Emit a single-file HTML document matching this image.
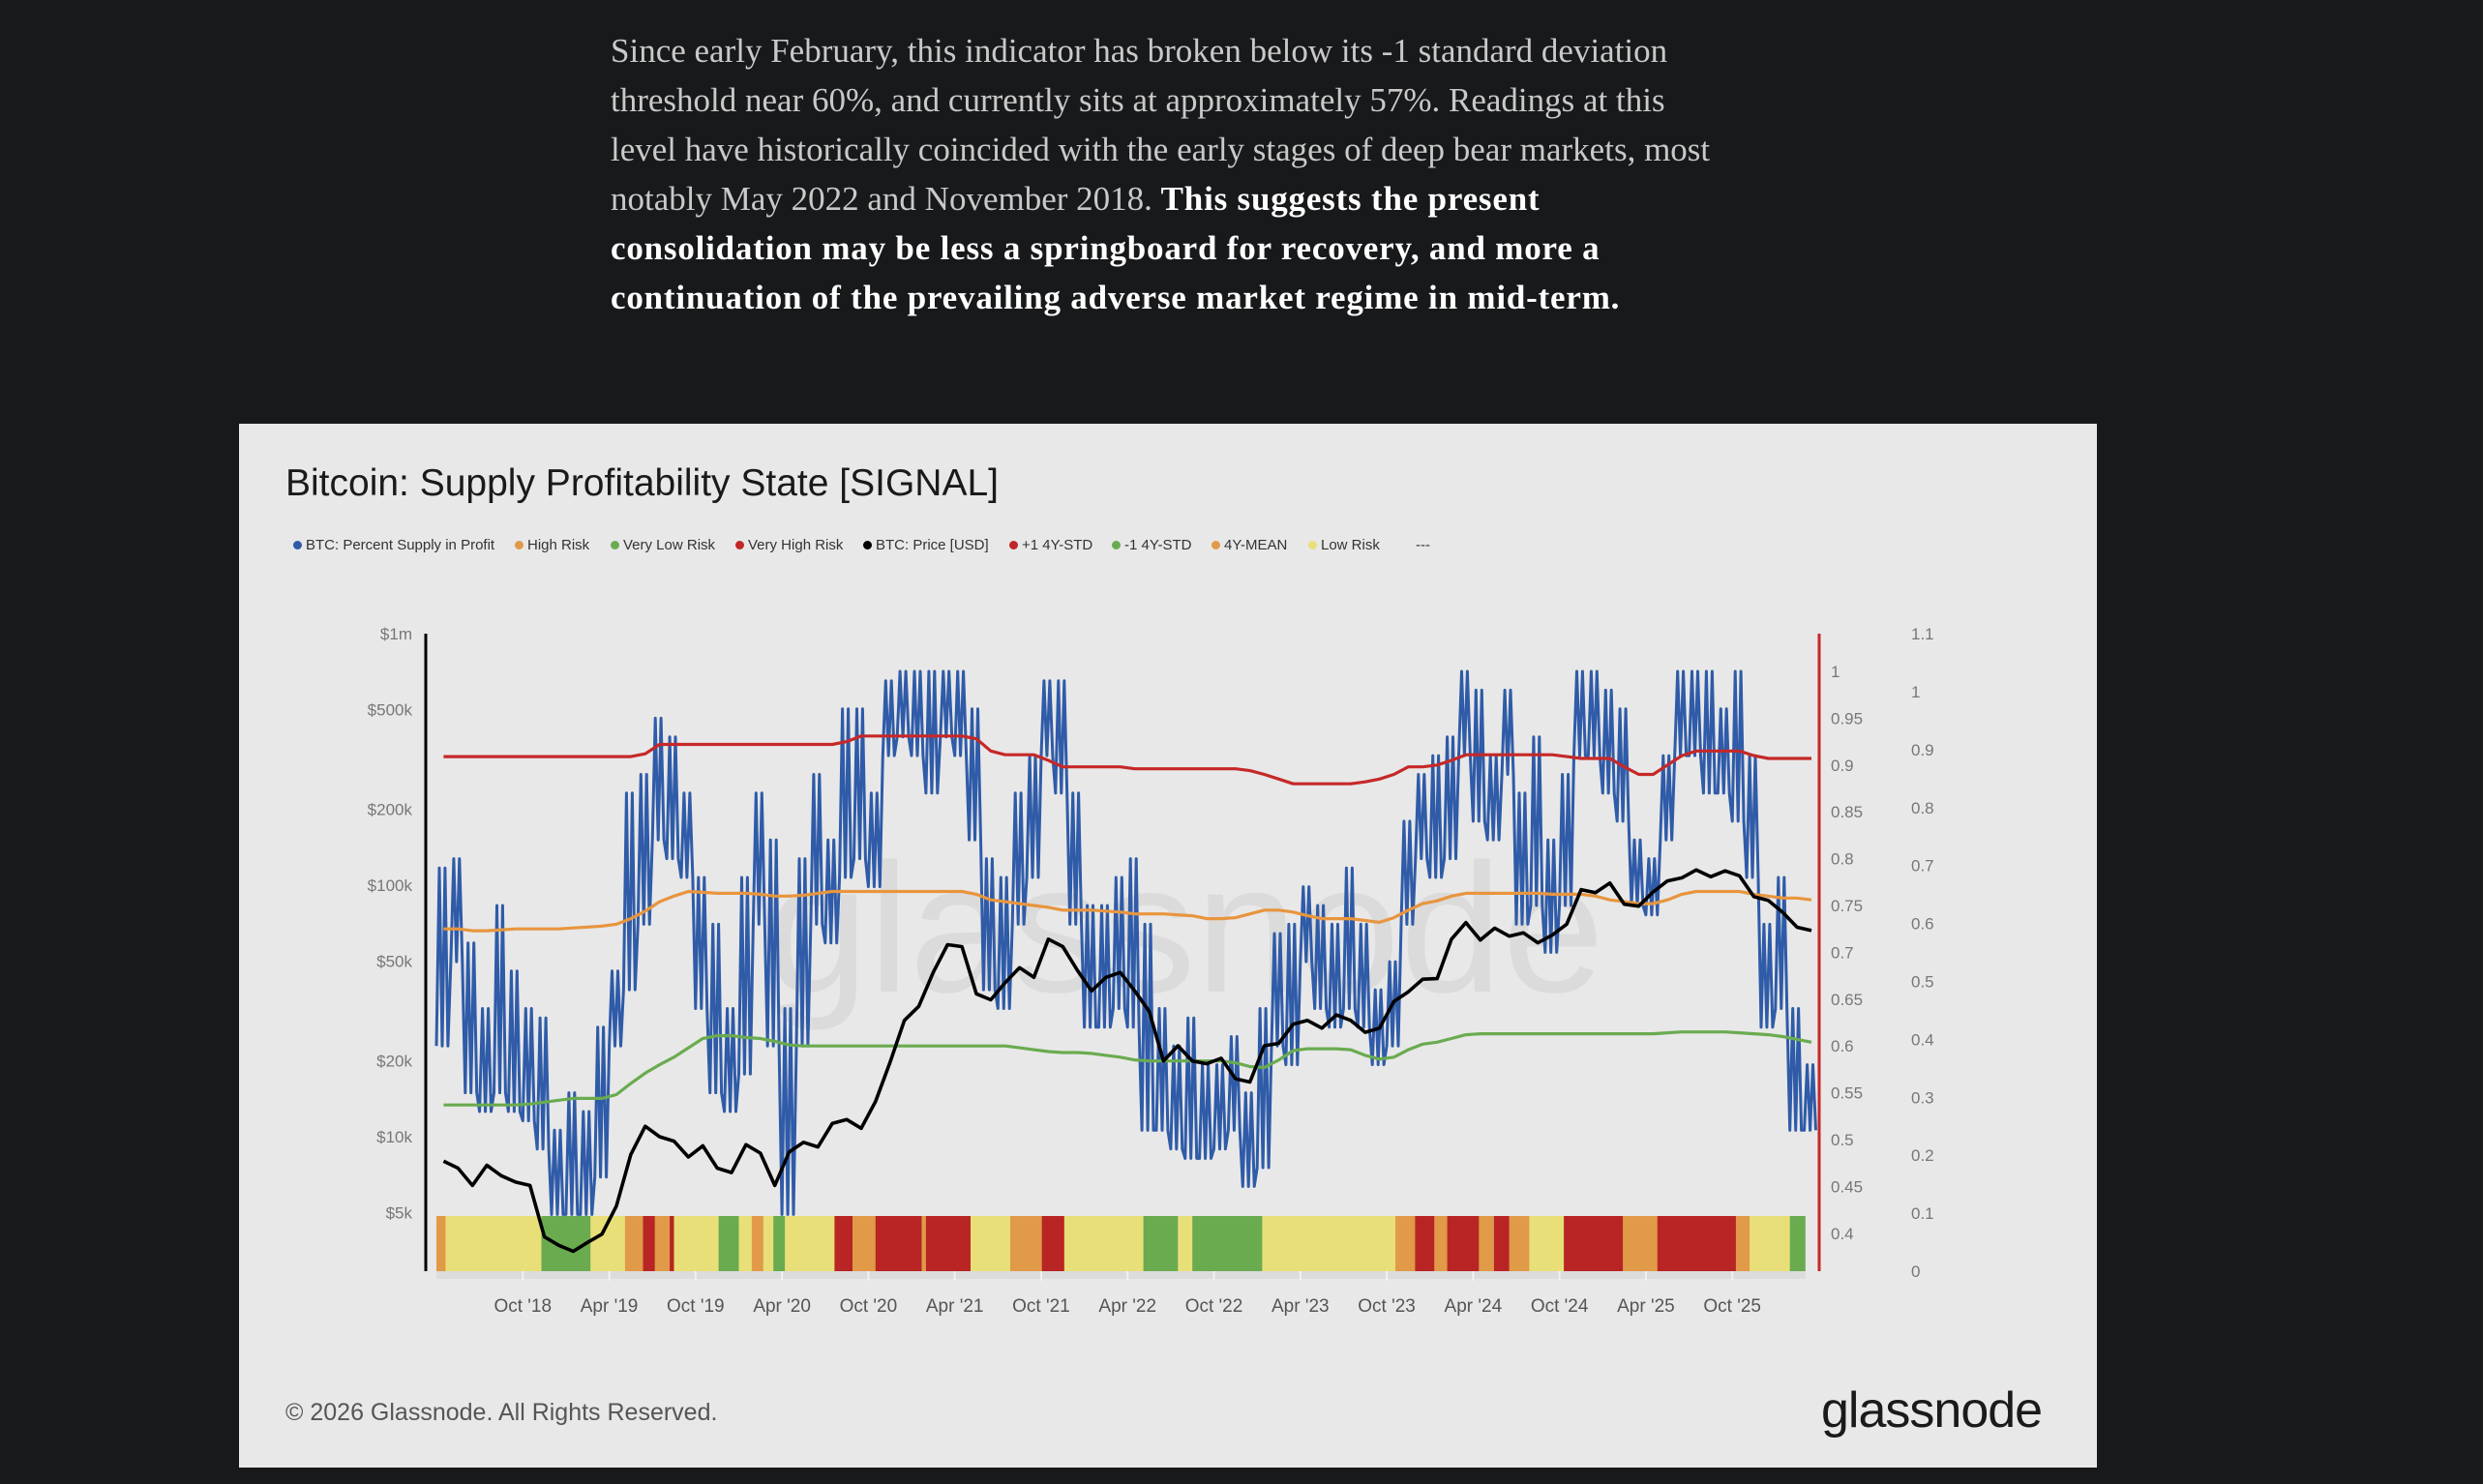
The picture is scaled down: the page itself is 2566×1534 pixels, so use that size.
<!DOCTYPE html>
<html><head><meta charset="utf-8">
<style>
body{margin:0;width:2566px;height:1534px;background:#18191b;overflow:hidden;position:relative;font-family:"Liberation Sans",sans-serif}
#intro{position:absolute;left:631px;top:27px;font-family:"Liberation Serif",serif;font-size:35px;line-height:51px;color:#c9c9c9;width:1300px}
#intro b{color:#fff;letter-spacing:0.8px}
#card{position:absolute;left:247px;top:438px;width:1920px;height:1079px;background:#e8e8e8}
.lg{position:absolute;top:555px;font-size:15px;color:#333;white-space:nowrap}
.lg i{display:inline-block;width:9px;height:9px;border-radius:50%;margin-right:4px;vertical-align:0}
</style></head><body>
<div id="intro">Since early February, this indicator has broken below its -1 standard deviation<br>threshold near 60%, and currently sits at approximately 57%. Readings at this<br>level have historically coincided with the early stages of deep bear markets, most<br>notably May 2022 and November 2018. <b>This suggests the present<br>consolidation may be less a springboard for recovery, and more a<br>continuation of the prevailing adverse market regime in mid-term.</b></div>
<div id="card"></div>
<div style="position:absolute;left:295px;top:478px;font-size:39px;color:#1a1a1a">Bitcoin: Supply Profitability State [SIGNAL]</div>
<div class="lg" style="left:303px"><i style="background:#2f5ba8"></i>BTC: Percent Supply in Profit</div>
<div class="lg" style="left:532px"><i style="background:#e09a48"></i>High Risk</div>
<div class="lg" style="left:631px"><i style="background:#6aab50"></i>Very Low Risk</div>
<div class="lg" style="left:760px"><i style="background:#c02626"></i>Very High Risk</div>
<div class="lg" style="left:892px"><i style="background:#000"></i>BTC: Price [USD]</div>
<div class="lg" style="left:1043px"><i style="background:#c02626"></i>+1 4Y-STD</div>
<div class="lg" style="left:1149px"><i style="background:#6aab50"></i>-1 4Y-STD</div>
<div class="lg" style="left:1252px"><i style="background:#e09a48"></i>4Y-MEAN</div>
<div class="lg" style="left:1352px"><i style="background:#e8df78"></i>Low Risk</div>
<div class="lg" style="left:1463px">---</div>
<div style="position:absolute;left:295px;top:1446px;font-size:25px;color:#555">© 2026 Glassnode. All Rights Reserved.</div>
<div style="position:absolute;left:1882px;top:1428px;font-size:52px;color:#1a1a1a;letter-spacing:-1px">glassnode</div>
<svg id="chart" width="2566" height="1534" style="position:absolute;left:0;top:0"></svg>
<script>
// Months since Apr 2018
const blueHi=[0.79,0.80,0.71,0.64,0.75,0.68,0.64,0.63,0.51,0.55,0.53,0.62,0.68,0.87,0.89,0.95,0.93,0.87,0.78,0.73,0.64,0.78,0.87,0.82,0.64,0.80,0.89,0.82,0.96,0.96,0.87,0.99,1.0,1.0,1.0,1.0,1.0,0.96,0.80,0.78,0.87,0.91,0.99,0.99,0.87,0.75,0.75,0.78,0.80,0.73,0.64,0.60,0.63,0.58,0.58,0.61,0.55,0.64,0.72,0.73,0.77,0.75,0.73,0.79,0.73,0.66,0.69,0.84,0.89,0.91,0.93,1.0,0.98,0.91,0.98,0.87,0.93,0.82,0.89,1.0,1.0,0.98,0.96,0.82,0.80,0.91,1.0,1.0,1.0,0.96,1.0,0.91,0.73,0.78,0.64,0.58];
const blueLo=[0.60,0.69,0.55,0.53,0.55,0.53,0.52,0.49,0.42,0.42,0.42,0.46,0.60,0.66,0.73,0.82,0.80,0.78,0.64,0.55,0.53,0.57,0.73,0.60,0.42,0.60,0.73,0.71,0.78,0.80,0.77,0.91,0.93,0.91,0.87,0.93,0.91,0.82,0.66,0.64,0.73,0.78,0.91,0.87,0.73,0.62,0.62,0.64,0.62,0.51,0.51,0.49,0.48,0.48,0.49,0.51,0.45,0.47,0.60,0.58,0.69,0.64,0.62,0.64,0.62,0.58,0.60,0.73,0.80,0.78,0.80,0.91,0.84,0.82,0.89,0.73,0.75,0.70,0.75,0.91,0.91,0.87,0.84,0.75,0.74,0.82,0.91,0.91,0.87,0.87,0.84,0.78,0.62,0.64,0.51,0.51];
const price=[8000,7500,6400,7700,7000,6600,6400,4000,3700,3500,3800,4100,5300,8500,11000,10000,9600,8300,9200,7500,7200,9300,8600,6400,8700,9500,9100,11300,11700,10800,13800,19700,29000,33000,45000,58000,57000,37000,35000,41000,47000,43000,61000,57000,46000,38000,43000,45000,38000,31500,20000,23000,20000,19500,20500,17000,16500,23000,23500,28000,29000,27000,30500,29000,26000,27000,34500,37700,42300,42500,61000,71000,60500,67500,62700,64600,59000,63300,70000,96000,93400,102000,84000,82500,94000,104000,107000,115000,108000,114000,109000,90000,87000,78000,68000,66000];
const stdUp=[0.909,0.909,0.909,0.909,0.909,0.909,0.909,0.909,0.909,0.909,0.909,0.909,0.909,0.909,0.912,0.922,0.922,0.922,0.922,0.922,0.922,0.922,0.922,0.922,0.922,0.922,0.922,0.922,0.925,0.931,0.931,0.931,0.931,0.931,0.931,0.931,0.931,0.928,0.915,0.911,0.911,0.911,0.905,0.898,0.898,0.898,0.898,0.898,0.896,0.896,0.896,0.896,0.896,0.896,0.896,0.896,0.894,0.89,0.885,0.88,0.88,0.88,0.88,0.88,0.882,0.885,0.89,0.898,0.898,0.9,0.905,0.911,0.911,0.911,0.911,0.911,0.911,0.911,0.909,0.907,0.907,0.907,0.898,0.89,0.89,0.9,0.91,0.915,0.915,0.915,0.915,0.91,0.907,0.907,0.907,0.907];
const stdMean=[0.725,0.725,0.723,0.723,0.724,0.725,0.725,0.725,0.725,0.726,0.727,0.728,0.73,0.736,0.744,0.754,0.76,0.765,0.764,0.763,0.763,0.763,0.762,0.76,0.76,0.761,0.763,0.765,0.765,0.765,0.765,0.765,0.765,0.765,0.765,0.765,0.765,0.762,0.756,0.754,0.752,0.75,0.748,0.745,0.745,0.745,0.744,0.743,0.741,0.741,0.741,0.74,0.739,0.736,0.736,0.737,0.741,0.745,0.745,0.743,0.739,0.736,0.736,0.736,0.734,0.732,0.737,0.745,0.752,0.755,0.76,0.763,0.763,0.763,0.763,0.763,0.763,0.762,0.762,0.762,0.76,0.756,0.754,0.752,0.752,0.756,0.762,0.765,0.765,0.765,0.765,0.762,0.76,0.758,0.758,0.756];
const stdLow=[0.537,0.537,0.537,0.537,0.537,0.537,0.538,0.54,0.542,0.544,0.544,0.544,0.548,0.56,0.571,0.58,0.588,0.598,0.608,0.611,0.611,0.609,0.608,0.605,0.601,0.6,0.6,0.6,0.6,0.6,0.6,0.6,0.6,0.6,0.6,0.6,0.6,0.6,0.6,0.6,0.598,0.596,0.594,0.593,0.593,0.592,0.59,0.588,0.585,0.584,0.584,0.584,0.584,0.584,0.584,0.582,0.578,0.577,0.585,0.595,0.597,0.597,0.597,0.596,0.59,0.586,0.588,0.596,0.602,0.604,0.608,0.612,0.613,0.613,0.613,0.613,0.613,0.613,0.613,0.613,0.613,0.613,0.613,0.613,0.613,0.614,0.615,0.615,0.615,0.615,0.614,0.613,0.612,0.61,0.607,0.604];
const bandStart=[0,0.63,7.29,10.7,13.1,14.35,15.17,16.2,16.5,19.6,21.0,21.9,22.7,23.4,24.2,27.65,28.9,30.5,33.7,34.0,37.1,39.85,42.05,43.6,49.1,51.5,52.5,57.35,66.6,67.97,69.3,70.2,72.4,73.45,74.5,75.9,78.3,82.4,84.8,90.25,91.2,94.0];
const bandEnd=[0.63,7.29,10.7,13.1,14.35,15.17,16.2,16.5,19.6,21.0,21.9,22.7,23.4,24.2,27.65,28.9,30.5,33.7,34.0,37.1,39.85,42.05,43.6,49.1,51.5,52.5,57.35,66.6,67.97,69.3,70.2,72.4,73.45,74.5,75.9,78.3,82.4,84.8,90.25,91.2,94.0,95.05];
const bandState=["high","low","vlow","low","high","vhigh","high","vhigh","low","vlow","low","high","low","vlow","low","vhigh","high","vhigh","high","vhigh","low","high","vhigh","low","vlow","low","vlow","low","high","vhigh","high","vhigh","high","vhigh","high","low","vhigh","high","vhigh","high","low","vlow"];
const priceTicks=[1000000,500000,200000,100000,50000,20000,10000,5000];
const priceTickLabels=["$1m","$500k","$200k","$100k","$50k","$20k","$10k","$5k"];
const ratioTicks=[1,0.95,0.9,0.85,0.8,0.75,0.7,0.65,0.6,0.55,0.5,0.45,0.4];
const signalTicks=[1.1,1,0.9,0.8,0.7,0.6,0.5,0.4,0.3,0.2,0.1,0];
const xTickMonths=[6,12,18,24,30,36,42,48,54,60,66,72,78,84,90];
const xTickLabels=["Oct '18","Apr '19","Oct '19","Apr '20","Oct '20","Apr '21","Oct '21","Apr '22","Oct '22","Apr '23","Oct '23","Apr '24","Oct '24","Apr '25","Oct '25"];

const NS="http://www.w3.org/2000/svg";
const svg=document.getElementById('chart');
const xS=m=>451+14.88*m;
const yP=p=>915-Math.log10(p/100000)*260;
const yR=v=>694+(1-v)*968;
const yS=v=>1314-v*599;
const colors={vhigh:"#b82524",high:"#e09a48",low:"#e8df78",vlow:"#6aab50"};
function mk(tag,attrs){const e=document.createElementNS(NS,tag);for(const k in attrs)e.setAttribute(k,attrs[k]);svg.appendChild(e);return e;}
function txt(x,y,s,anchor,size,fill){const e=mk('text',{x:x,y:y,'text-anchor':anchor,'font-size':size,fill:fill,'font-family':'Liberation Sans, sans-serif'});e.textContent=s;return e;}

const wm=txt(1225,1025,"glassnode","middle",190,"rgba(0,0,0,0.055)");



let d="";
blueHi.forEach((h,i)=>{const l=blueLo[i];for(let j=0;j<5;j++){const v=(j%2===0)?l:h;d+=(d?"L":"M")+xS(i+j/5).toFixed(1)+","+yR(v).toFixed(1);}});
const bl=mk('path',{d:d,fill:"none",stroke:"#2f5ba8","stroke-width":3,"stroke-linejoin":"round"});



function line(arr,fn,color,w,name){let p="";arr.forEach((v,i)=>{p+=(i?"L":"M")+xS(i+0.5).toFixed(1)+","+fn(v).toFixed(1);});const e=mk('path',{d:p,fill:"none",stroke:color,"stroke-width":w,"stroke-linejoin":"round"});return e;}
line(stdUp,yR,"#c62828",3.2,"plus-std-line");
line(stdMean,yR,"#e8953e",3.2,"mean-line");
line(stdLow,yR,"#6aab50",3.2,"minus-std-line");

bandStart.forEach((s,i)=>{const r=mk('rect',{x:xS(s).toFixed(1),y:1257,width:(xS(bandEnd[i])-xS(s)+0.5).toFixed(1),height:57,fill:colors[bandState[i]]});

});
const strip=mk('rect',{x:451,y:1314,width:1415,height:8,fill:"#dcdcdc"});



line(price,yP,"#000",3.6,"price-line");

const la=mk('line',{x1:440,y1:655,x2:440,y2:1314,stroke:"#000","stroke-width":3});


const ra=mk('line',{x1:1880,y1:655,x2:1880,y2:1314,stroke:"#c62828","stroke-width":3});


priceTicks.forEach((p,i)=>{const t=txt(426,yP(p)+6,priceTickLabels[i],"end",17,"#777");});
ratioTicks.forEach(v=>{const t=txt(1892,yR(v)+6,String(v),"start",17,"#777");});
signalTicks.forEach(v=>{const t=txt(1975,yS(v)+6,String(v),"start",17,"#777");});
xTickMonths.forEach((m,i)=>{const tk=mk('line',{x1:xS(m),y1:1314,x2:xS(m),y2:1324,stroke:"#f2f2f2","stroke-width":2});
const t=txt(xS(m),1356,xTickLabels[i],"middle",19,"#555");});
</script>
</body></html>
